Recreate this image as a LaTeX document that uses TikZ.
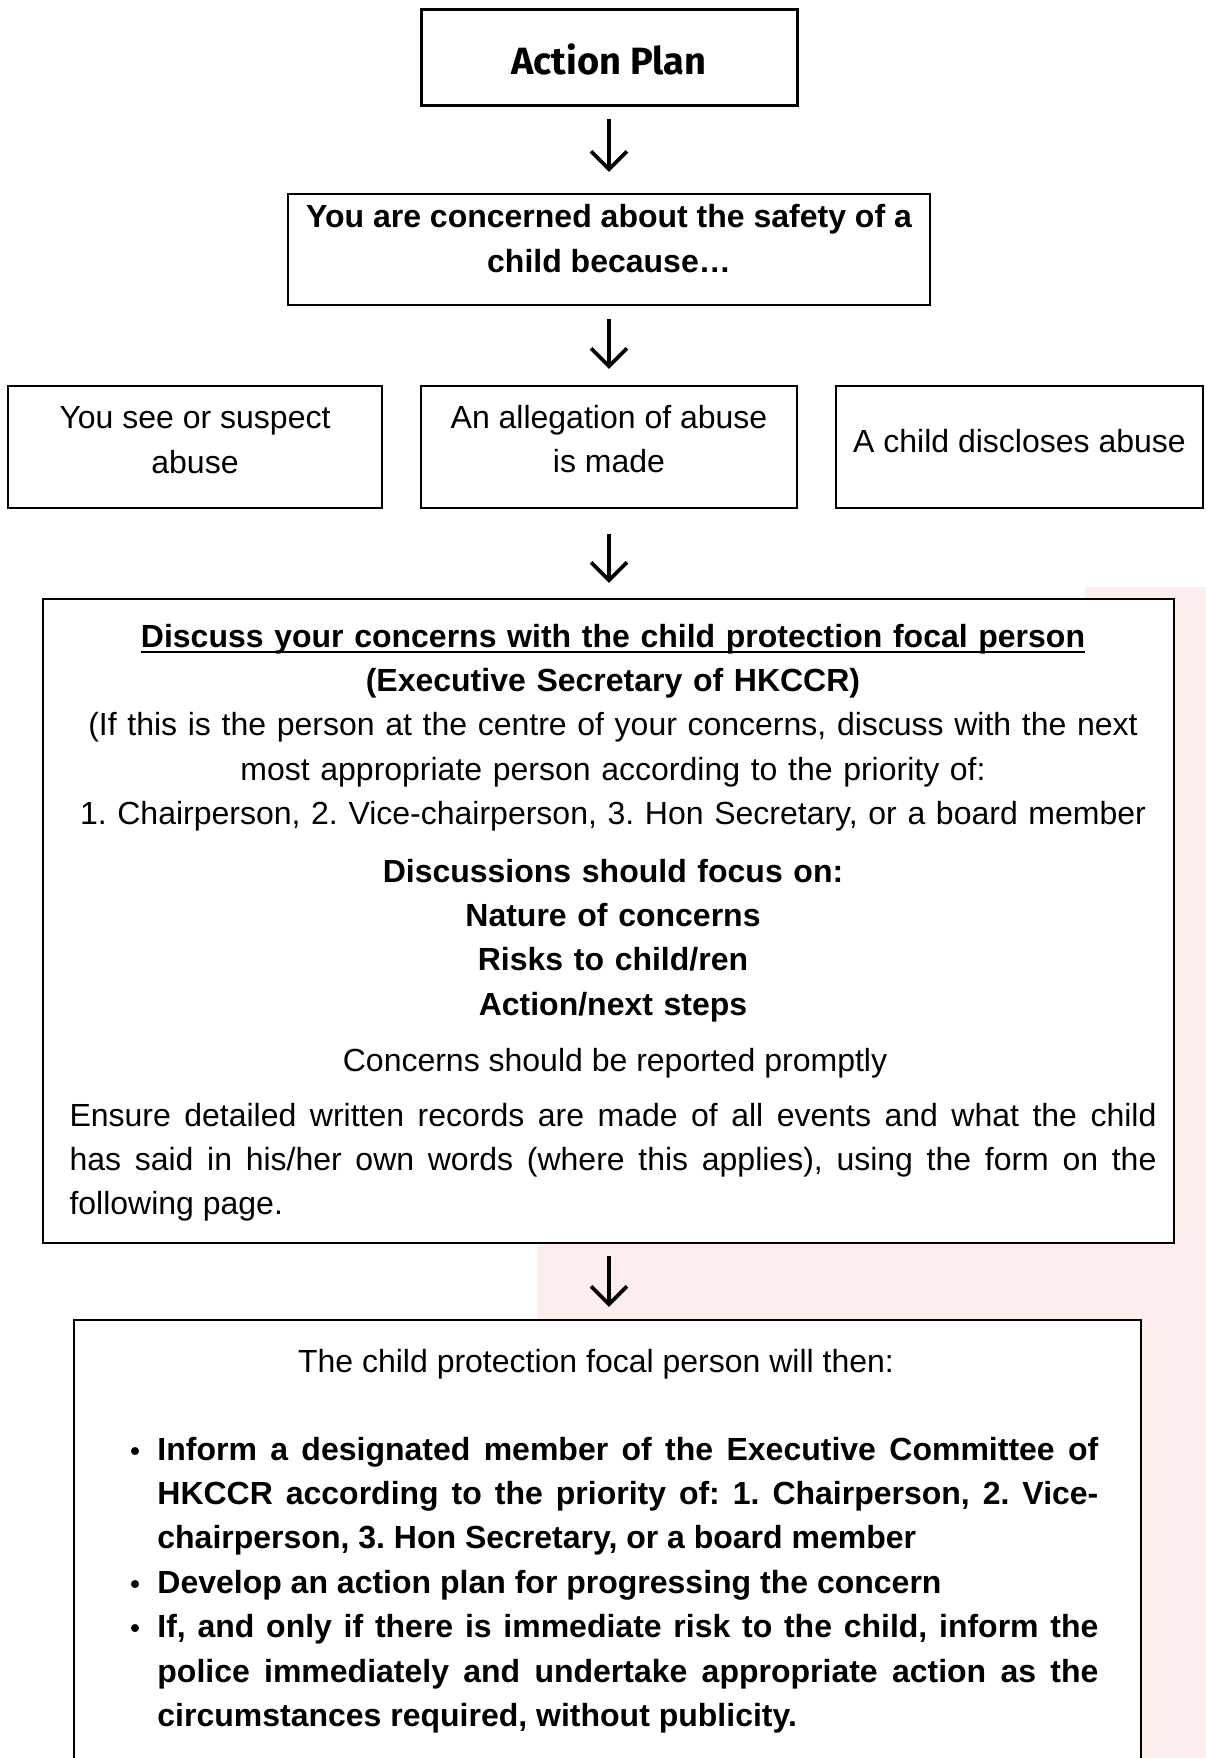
\documentclass[tikz,border=0pt]{standalone}
\usepackage{fontspec}
\setmainfont{Liberation Sans}
\newfontfamily\headfont{Fira Sans}
\usetikzlibrary{arrows.meta}
\definecolor{blushpink}{RGB}{253,237,236}
\frenchspacing
\newcommand{\bodysize}{\fontsize{16}{22.2}\selectfont}
\newcommand{\taskitem}[1]{\noindent\hangindent=13.5pt\hangafter=1\makebox[13.5pt][l]{\scalebox{0.85}{\textbullet}}#1\par}
\newsavebox{\ulinebox}
\newcommand{\underrule}[1]{\sbox{\ulinebox}{#1}\rlap{\usebox{\ulinebox}}\rule[-2.8pt]{\wd\ulinebox}{1pt}}
\tikzset{box/.style={draw, line width=1.2pt, fill=white, inner sep=0pt, align=center, font=\bodysize}}
\tikzset{txt/.style={inner sep=0pt, font=\bodysize}}
\tikzset{flow/.style={line width=1.8pt, -{Straight Barb[length=9pt, width=18pt]}}}

\begin{document}
\begin{tikzpicture}[x=0.5pt, y=-0.5pt]
    \useasboundingbox (0,0) rectangle (1206,1758);
    \clip (0,0) rectangle (1206,1758);
    % pale backdrop on the right
    \fill[blushpink] (1085,587) -- (1206,587) -- (1206,1758) -- (537,1758) -- (537,900) -- (1085,900) -- cycle;

    \node[box, line width=1.5pt, minimum width=188pt, minimum height=48pt, text height=17pt, text depth=0pt,
        font=\fontsize{19}{22}\selectfont\headfont\bfseries] (plan) at (609,57) {Action Plan};
    \node[box, minimum width=321pt, minimum height=55.5pt, text depth=11pt,
        font=\bodysize\bfseries] (concern) at (609,249.5)
        {You are concerned about the safety of a\\child because…};

    \node[box, minimum width=187pt, minimum height=61pt, text depth=7pt] (see) at (195,447)
        {You see or suspect\\abuse};
    \node[box, minimum width=188pt, minimum height=61pt, text depth=8pt] (alleged) at (609,447)
        {An allegation of abuse\\is made};
    \node[box, minimum width=183.5pt, minimum height=61pt, text depth=6pt] (tell) at (1019.5,447)
        {A child discloses abuse};

    \node[box, minimum width=565.5pt, minimum height=322pt] (discuss) at (608.5,921) {};
    \node[box, minimum width=533.5pt, minimum height=240pt] (duties) at (607.5,1560) {};

    \draw [flow, shorten <=6pt, shorten >=10.5pt] (plan) -- (concern);
    \draw [flow, shorten <=6.5pt, shorten >=8pt] (concern) -- (alleged);
    \draw [flow, shorten <=12.5pt, shorten >=7.5pt] (alleged) -- (alleged |- discuss.north);
    \draw [flow, shorten <=6pt, shorten >=6pt] (discuss.south -| alleged) -- (alleged |- duties.north);

    % text of the focal person box
    \node[txt, anchor=base, text width=543.5pt, align=center] (focal) at (613,647)
        {{\bfseries\underrule{Discuss your concerns with the child protection focal person}}\\
        {\bfseries (Executive Secretary of HKCCR)}\\
        (If this is the person at the centre of your concerns, discuss with the next\\
        most appropriate person according to the priority of:\\
        1. Chairperson, 2. Vice-chairperson, 3. Hon Secretary, or a board member};
    \node[txt, anchor=base, text width=543.5pt, align=center, font=\bodysize\bfseries] (focus) at (613,882)
        {Discussions should focus on:\\Nature of concerns\\Risks to child/ren\\Action/next steps};
    \node[txt, anchor=base] (prompt) at (615,1071) {Concerns should be reported promptly};
    \node[txt, anchor=base, text width=543.5pt, align=justify] (records) at (613,1126)
        {\noindent Ensure detailed written records are made of all events and what the child\linebreak
        has said in his/her own words (where this applies), using the form on the\linebreak
        following page.};

    % text of the last box
    \node[txt, anchor=base] (then) at (596,1372) {The child protection focal person will then:};
    \node[txt, anchor=base west, text width=484pt, align=justify, font=\bodysize\bfseries] (tasks) at (130,1460)
        {\taskitem{Inform a designated member of the Executive Committee of\linebreak
        HKCCR according to the priority of: 1. Chairperson, 2. Vice-\linebreak
        chairperson, 3. Hon Secretary, or a board member}%
        \taskitem{Develop an action plan for progressing the concern}%
        \taskitem{If, and only if there is immediate risk to the child, inform the\linebreak
        police immediately and undertake appropriate action as the\linebreak
        circumstances required, without publicity.}};
\end{tikzpicture}
\end{document}
